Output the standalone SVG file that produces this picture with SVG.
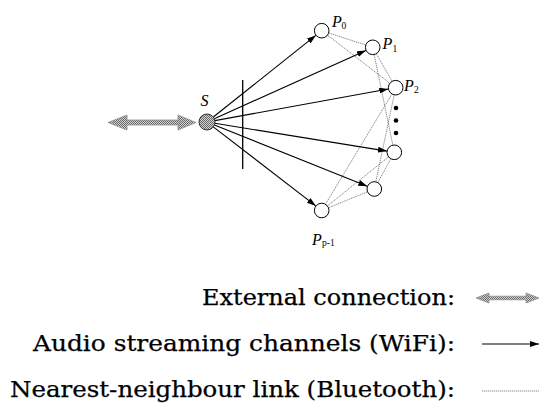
<svg xmlns="http://www.w3.org/2000/svg" width="541" height="403" viewBox="0 0 541 403">
<style>
.node{fill:#fff;stroke:#000;stroke-width:1}
.wifi{stroke:#000;stroke-width:1.1;fill:none;marker-end:url(#ah)}
.bt{stroke:#6e6e6e;stroke-width:0.85;stroke-dasharray:1.2 0.8;fill:none}
.lbl{font-family:"Liberation Serif","Times New Roman",serif;font-style:italic;font-size:16px;fill:#000}
.sub{font-family:"Liberation Serif","Times New Roman",serif;font-size:9.5px;fill:#000}
.leg{font-family:"DejaVu Serif","Liberation Serif",serif;font-size:22px;fill:#000;stroke:#000;stroke-width:0.25}
.ext{fill:url(#chk);stroke:#909090;stroke-width:0.8}
</style>
<defs>
<pattern id="chk" width="2" height="2" patternUnits="userSpaceOnUse">
<rect width="2" height="2" fill="#d0d0d0"/>
<rect width="1" height="1" fill="#6a6a6a"/>
<rect x="1" y="1" width="1" height="1" fill="#6a6a6a"/>
</pattern>
<marker id="ah" markerUnits="userSpaceOnUse" markerWidth="9" markerHeight="6" refX="9" refY="3" orient="auto">
<path d="M0,0 L9,3 L0,6 z" fill="#000"/>
</marker>
</defs>

<g id="connectors">
<!-- Bluetooth nearest-neighbour links -->
<line class="bt" x1="321.7" y1="30.7" x2="372.7" y2="47.3"/>
<line class="bt" x1="321.7" y1="30.7" x2="395.7" y2="87.7"/>
<line class="bt" x1="372.7" y1="47.3" x2="395.7" y2="87.7"/>
<line class="bt" x1="372.7" y1="47.3" x2="394.3" y2="152.3"/>
<line class="bt" x1="395.7" y1="87.7" x2="374.3" y2="189"/>
<line class="bt" x1="395.7" y1="87.7" x2="321.7" y2="210.5"/>
<line class="bt" x1="394.3" y1="152.3" x2="374.3" y2="189"/>
<line class="bt" x1="394.3" y1="152.3" x2="321.7" y2="210.5"/>
<line class="bt" x1="374.3" y1="189" x2="321.7" y2="210.5"/>
<!-- WiFi audio streaming channels -->
<line class="wifi" x1="213.3" y1="117.0" x2="315.8" y2="35.4"/>
<line class="wifi" x1="214.3" y1="118.7" x2="365.9" y2="50.4"/>
<line class="wifi" x1="214.9" y1="120.6" x2="388.3" y2="89.0"/>
<line class="wifi" x1="214.9" y1="123.3" x2="386.9" y2="151.1"/>
<line class="wifi" x1="214.4" y1="125.0" x2="367.3" y2="186.2"/>
<line class="wifi" x1="213.3" y1="126.9" x2="315.8" y2="205.9"/>
<!-- barrier line -->
<line x1="242.7" y1="80" x2="242.7" y2="169" stroke="#000" stroke-width="1.3"/>
<!-- external connection -->
<path class="ext" d="M108,122.5 L127,115 L127,120 L178,120 L178,115 L196,122.5 L178,130 L178,125 L127,125 L127,130 Z"/>
</g>

<g id="S">
<circle cx="207" cy="122" r="8" fill="url(#chk)" stroke="#333" stroke-width="1"/>
<text class="lbl" x="200.5" y="106">S</text>
</g>
<g id="P0">
<circle class="node" cx="321.7" cy="30.7" r="7.3"/>
<text class="lbl" x="332" y="26.5">P</text><text class="sub" x="341.5" y="28.5">0</text>
</g>
<g id="P1">
<circle class="node" cx="372.7" cy="47.3" r="7.3"/>
<text class="lbl" x="382.5" y="48.5">P</text><text class="sub" x="392.5" y="51.5">1</text>
</g>
<g id="P2">
<circle class="node" cx="395.7" cy="87.7" r="7.3"/>
<text class="lbl" x="404" y="90.5">P</text><text class="sub" x="414" y="93">2</text>
</g>
<g id="dots">
<circle cx="396" cy="108" r="2.3" fill="#000"/>
<circle cx="396" cy="120.5" r="2.3" fill="#000"/>
<circle cx="396" cy="133" r="2.3" fill="#000"/>
</g>
<g id="P3">
<circle class="node" cx="394.3" cy="152.3" r="7.3"/>
</g>
<g id="P4">
<circle class="node" cx="374.3" cy="189" r="7.3"/>
</g>
<g id="Pp-1">
<circle class="node" cx="321.7" cy="210.5" r="7.3"/>
<text class="lbl" x="312" y="245">P</text><text class="sub" x="322" y="246">p-1</text>
</g>

<g id="legend">
<text class="leg" x="202" y="305" textLength="253" lengthAdjust="spacingAndGlyphs">External connection:</text>
<text class="leg" x="33" y="351" textLength="422" lengthAdjust="spacingAndGlyphs">Audio streaming channels (WiFi):</text>
<text class="leg" x="10" y="397" textLength="445" lengthAdjust="spacingAndGlyphs">Nearest-neighbour link (Bluetooth):</text>
<path class="ext" d="M476,298 L489,293 L489,296.2 L526,296.2 L526,293 L539,298 L526,303 L526,299.8 L489,299.8 L489,303 Z"/>
<line class="wifi" x1="482" y1="344" x2="539" y2="344"/>
<line class="bt" x1="482" y1="391" x2="539" y2="391"/>
</g>
</svg>
